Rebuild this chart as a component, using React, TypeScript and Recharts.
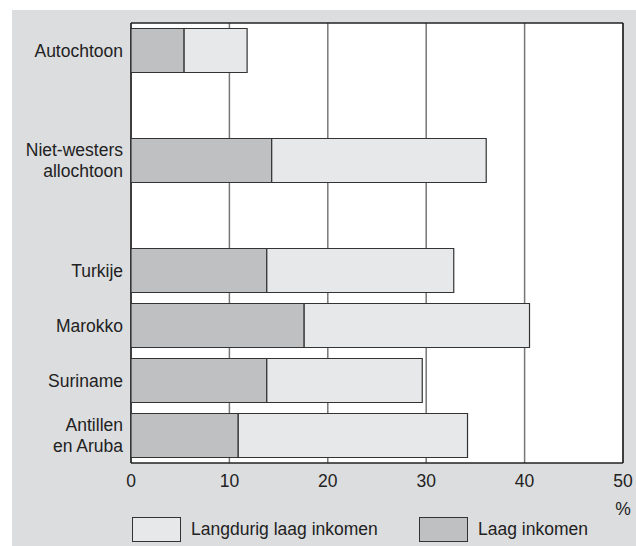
import { BarChart, Bar, XAxis, YAxis, CartesianGrid } from 'recharts';

const categories = ['Autochtoon', '', 'Niet-westers\nallochtoon', '', 'Turkije', 'Marokko', 'Suriname', 'Antillen\nen Aruba'];
// dark segment (Laag inkomen), drawn first from 0
const laagInkomen = [5.4, null, 14.3, null, 13.8, 17.6, 13.8, 10.9];
// light segment (Langdurig laag inkomen), stacked after the dark one
const langdurig = [6.4, null, 21.8, null, 19.0, 22.9, 15.8, 23.3];
const xTicks = [0, 10, 20, 30, 40, 50];

const FONT = '"Liberation Sans", Arial, Helvetica, sans-serif';
const DARK = '#bfc0c2';
const LIGHT = '#e7e8e9';
const EDGE = '#333';
const FRAME = '#222';

const rows = categories.map((c, i) => ({
  id: `c${i}`,
  label: c,
  laag: laagInkomen[i],
  langdurig: langdurig[i],
}));
const labelOf: Record<string, string> = Object.fromEntries(rows.map(r => [r.id, r.label]));

const legendItems = [
  { name: 'Langdurig laag inkomen', color: LIGHT, width: 287 },
  { name: 'Laag inkomen', color: DARK, width: 180 },
];

function CategoryTick(props: any) {
  const { x, y, payload } = props;
  const lines = (labelOf[payload.value] || '').split('\n').filter(Boolean);
  if (!lines.length) return null;
  const lh = 21;
  const start = -((lines.length - 1) * lh) / 2;
  return (
    <text x={x} y={y} textAnchor="end" fill="#222" fontSize={17.5} fontFamily={FONT}>
      {lines.map((l, i) => (
        <tspan key={i} x={x} y={y + start + i * lh} dy="0.36em">{l}</tspan>
      ))}
    </text>
  );
}

function PercentLabel(props: any) {
  const vb = props.viewBox || {};
  return (
    <text x={vb.x + vb.width} y={vb.y + 52} textAnchor="middle" fill="#222" fontSize={17.5} fontFamily={FONT}>%</text>
  );
}

function ChartLegend() {
  return (
    <div style={{ display: 'flex', fontFamily: FONT, fontSize: 17.5, color: '#222' }}>
      {legendItems.map(it => (
        <div key={it.name} style={{ display: 'flex', alignItems: 'center', width: it.width }}>
          <span style={{ width: 47, height: 23, background: it.color, border: `1px solid ${EDGE}`, marginRight: 10, flex: 'none' }} />
          <span>{it.name}</span>
        </div>
      ))}
    </div>
  );
}

// frame of the plot area, taken from the chart's own offset
const frameRows = ({ offset }: any) => [offset.top, offset.top + offset.height];
const frameCols = ({ offset }: any) => [offset.left, offset.left + offset.width];

export default function App() {
  return (
    <div style={{ position: 'absolute', left: 0, top: 0, width: 636, height: 546, overflow: 'hidden', background: '#fff' }}>
      <div style={{ position: 'absolute', left: 12, top: 10, right: 0, bottom: 0, background: '#dcdddf' }} />
      <div style={{ position: 'absolute', left: 0, top: 0 }}>
        <BarChart
          width={636}
          height={546}
          data={rows}
          layout="vertical"
          margin={{ top: 23, right: 13, bottom: 53, left: 0 }}
          barCategoryGap="10%"
        >
          <CartesianGrid horizontal={false} stroke="#777" strokeWidth={1.5} fill="#fff" fillOpacity={1} />
          <CartesianGrid
            stroke={FRAME}
            strokeWidth={1.5}
            horizontalCoordinatesGenerator={frameRows}
            verticalCoordinatesGenerator={frameCols}
          />
          <XAxis
            type="number"
            domain={[0, 50]}
            ticks={xTicks}
            height={30}
            tickSize={0}
            tickMargin={12}
            axisLine={false}
            tick={{ fill: '#222', fontSize: 17.5, fontFamily: FONT }}
            label={<PercentLabel />}
          />
          <YAxis
            type="category"
            dataKey="id"
            width={131}
            tickSize={0}
            tickMargin={8}
            axisLine={false}
            interval={0}
            tick={<CategoryTick />}
          />
          <Bar dataKey="laag" name="Laag inkomen" stackId="a" fill={DARK} stroke={EDGE} strokeWidth={1.2} isAnimationActive={false} />
          <Bar dataKey="langdurig" name="Langdurig laag inkomen" stackId="a" fill={LIGHT} stroke={EDGE} strokeWidth={1.2} isAnimationActive={false} />
        </BarChart>
      </div>
      <div style={{ position: 'absolute', left: 132, top: 517 }}>
        <ChartLegend />
      </div>
    </div>
  );
}
